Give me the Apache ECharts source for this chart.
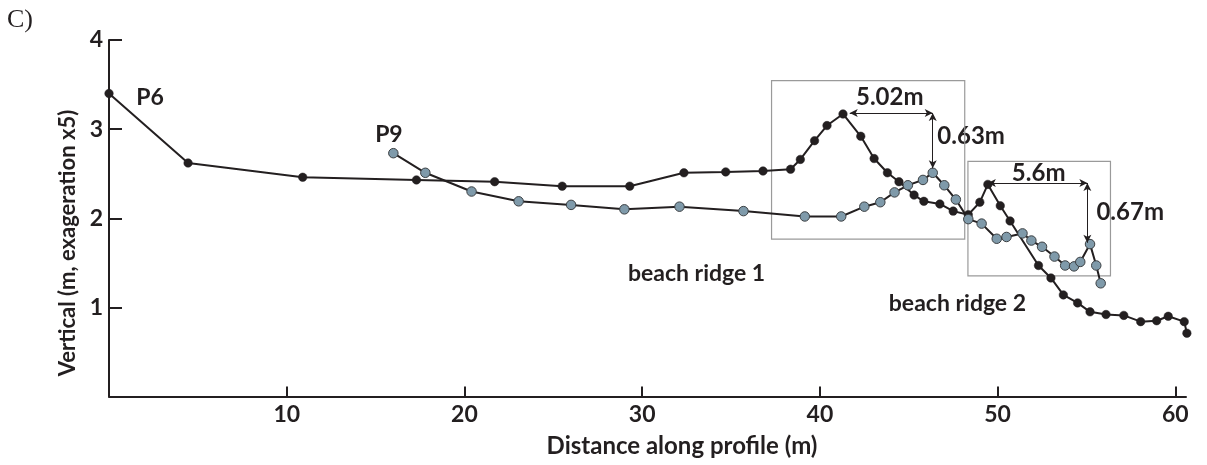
<!DOCTYPE html>
<html>
<head>
<meta charset="utf-8">
<script src="https://cdn.jsdelivr.net/npm/echarts@6/dist/echarts.min.js"></script>
<style>
html,body{margin:0;padding:0;background:#fff;}
#chart{width:1207px;height:465px;}
</style>
</head>
<body>
<div id="chart"></div>
<script>
// ---- data ----
var p6Distance = [0, 4.45, 10.9, 17.3, 21.7, 25.5, 29.3, 32.35, 34.7, 36.8, 38.35, 38.9, 39.7, 40.4, 41.3, 42.3, 43.05, 43.8, 44.45, 45.3, 45.85, 46.75, 47.5, 48.35, 49.0, 49.45, 50.15, 50.7, 52.3, 53.0, 53.7, 54.5, 55.2, 56.1, 57.1, 58.05, 58.95, 59.6, 60.5, 60.65];
var p6Vertical = [3.40, 2.62, 2.46, 2.43, 2.41, 2.36, 2.36, 2.51, 2.52, 2.53, 2.55, 2.66, 2.87, 3.04, 3.17, 2.92, 2.67, 2.51, 2.41, 2.26, 2.19, 2.16, 2.08, 2.04, 2.18, 2.38, 2.14, 1.97, 1.47, 1.33, 1.14, 1.05, 0.95, 0.92, 0.91, 0.84, 0.85, 0.90, 0.84, 0.71];
var p9Distance = [16.0, 17.8, 20.4, 23.05, 26.0, 29.0, 32.1, 35.7, 39.15, 41.2, 42.5, 43.4, 44.2, 44.95, 45.8, 46.35, 47.0, 47.65, 48.35, 49.1, 49.95, 50.5, 51.4, 51.9, 52.5, 53.2, 53.8, 54.3, 54.65, 55.2, 55.55, 55.8];
var p9Vertical = [2.73, 2.51, 2.30, 2.19, 2.15, 2.10, 2.13, 2.08, 2.02, 2.02, 2.13, 2.18, 2.29, 2.37, 2.43, 2.51, 2.37, 2.21, 1.99, 1.94, 1.77, 1.79, 1.83, 1.75, 1.68, 1.57, 1.47, 1.46, 1.51, 1.71, 1.47, 1.27];
var xTicks = [10, 20, 30, 40, 50, 60];
var yTicks = [1, 2, 3, 4];
// ridge boxes [x0, y0, x1, y1]
var ridge1Box = [37.28, 1.766, 48.15, 3.545];
var ridge2Box = [48.33, 1.354, 56.35, 2.638];
// measurement arrows: start x, top y, horizontal length, vertical drop
var ridge1Measure = {x: 41.68, y: 3.18, dx: 4.67, dy: 0.62, hLabel: '5.02m', vLabel: '0.63m'};
var ridge2Measure = {x: 49.45, y: 2.395, dx: 5.6, dy: 0.67, hLabel: '5.6m', vLabel: '0.67m'};

function pairs(xs, ys){ return xs.map(function(x,i){ return [x, ys[i]]; }); }

var FONT = 'Lato';
var DARK = '#231f20';
var chart = echarts.init(document.getElementById('chart'), null, {renderer:'canvas'});

function measureLines(m){
  return [
    [{coord:[m.x, m.y]}, {coord:[m.x + m.dx, m.y]}],
    [{coord:[m.x + m.dx, m.y]}, {coord:[m.x + m.dx, m.y - m.dy]}]
  ];
}

var option = {
  animation: false,
  backgroundColor: '#fff',
  grid: {left: 109, top: 40, width: 1077, height: 356.5, containLabel: false},
  xAxis: {
    type: 'value', min: 0, max: 60.6,
    axisLine: {show: true, onZero: false, lineStyle: {color: DARK, width: 2}},
    axisTick: {show: true, inside: true, length: 10, customValues: xTicks, lineStyle: {color: DARK, width: 2}},
    axisLabel: {customValues: xTicks, color: DARK, fontFamily: FONT, fontWeight: 'bold', fontSize: 23, margin: 7},
    splitLine: {show: false}
  },
  yAxis: {
    type: 'value', min: 0, max: 4,
    axisLine: {show: true, onZero: false, lineStyle: {color: DARK, width: 2}},
    axisTick: {show: true, inside: true, length: 13, customValues: yTicks, lineStyle: {color: DARK, width: 2}},
    axisLabel: {customValues: yTicks, color: DARK, fontFamily: FONT, fontWeight: 'bold', fontSize: 23, margin: 6},
    splitLine: {show: false}
  },
  series: [
    {
      name: 'P6', type: 'line', data: pairs(p6Distance, p6Vertical), clip: false,
      symbol: 'circle', symbolSize: 8.5, showAllSymbol: true,
      lineStyle: {color: DARK, width: 2},
      itemStyle: {color: DARK, borderColor: DARK, borderWidth: 0.5},
      z: 3
    },
    {
      name: 'P9', type: 'line', data: pairs(p9Distance, p9Vertical), clip: false,
      symbol: 'circle', symbolSize: 9.5, showAllSymbol: true,
      lineStyle: {color: DARK, width: 2},
      itemStyle: {color: '#7f9aaa', borderColor: '#3b3f42', borderWidth: 1},
      z: 4,
      markArea: {
        silent: true,
        itemStyle: {color: 'rgba(0,0,0,0)', borderColor: '#9a9a9a', borderWidth: 1.2},
        data: [
          [{coord:[ridge1Box[0], ridge1Box[3]]}, {coord:[ridge1Box[2], ridge1Box[1]]}],
          [{coord:[ridge2Box[0], ridge2Box[3]]}, {coord:[ridge2Box[2], ridge2Box[1]]}]
        ]
      },
      markLine: {
        silent: true,
        symbol: ['arrow', 'arrow'],
        symbolSize: [6, 8],
        label: {show: false},
        lineStyle: {color: DARK, width: 1, type: 'solid'},
        data: measureLines(ridge1Measure).concat(measureLines(ridge2Measure))
      }
    }
  ]
};
chart.setOption(option);

function px(x, y){ return chart.convertToPixel({gridIndex: 0}, [x, y]); }
function txt(x, y, s, align, size){
  var p = px(x, y);
  return {type:'text', x: p[0], y: p[1],
    style:{text: s, fill: DARK, font: 'bold ' + (size||23) + 'px ' + FONT, textAlign: align||'center', textVerticalAlign:'middle'}};
}
var g = [];
g.push({type:'text', left: 7, top: 7, style:{text:'C)', fill: DARK, font: 'normal 26px "Liberation Serif"'}});
g.push({type:'text', x: 68, y: 243, rotation: Math.PI/2, style:{text:'Vertical (m, exageration x5)', fill: DARK, font:'bold 22px ' + FONT, align:'center', verticalAlign:'middle', textAlign:'center', textVerticalAlign:'middle'}});
g.push({type:'text', x: 682, y: 446, style:{text:'Distance along profile (m)', fill: DARK, font:'bold 24px ' + FONT, textAlign:'center', textVerticalAlign:'middle'}});
g.push(txt(2.31, 3.35, 'P6'));
g.push(txt(15.75, 2.94, 'P9'));
g.push(txt(33.06, 1.384, 'beach ridge 1'));
g.push(txt(47.74, 1.047, 'beach ridge 2'));
g.push(txt(43.93, 3.354, ridge1Measure.hLabel, 'center', 24));
g.push(txt(46.61, 2.919, ridge1Measure.vLabel, 'left', 24));
g.push(txt(52.31, 2.50, ridge2Measure.hLabel, 'center', 24));
g.push(txt(55.56, 2.07, ridge2Measure.vLabel, 'left', 24));
chart.setOption({graphic: g});
</script>
</body>
</html>
